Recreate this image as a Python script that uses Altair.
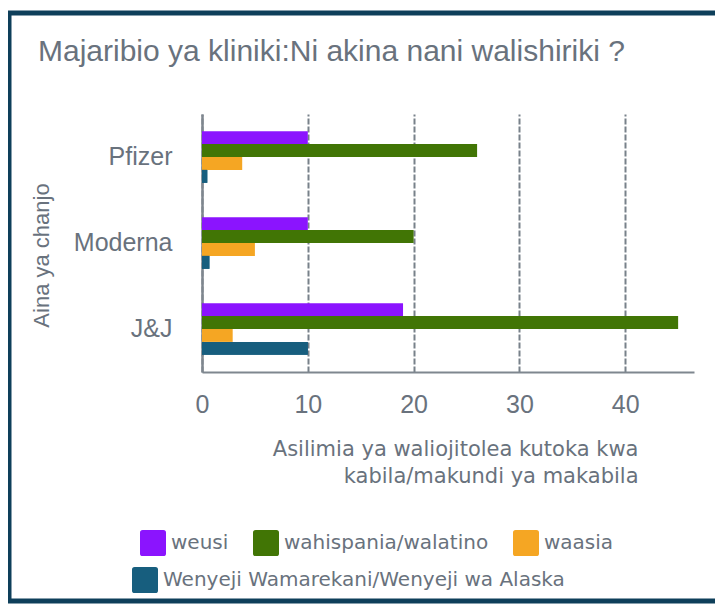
import altair as alt
import pandas as pd

# ---- data ----
vaccines = ["Pfizer", "Moderna", "J&J"]
groups = ["weusi", "wahispania/walatino", "waasia", "Wenyeji Wamarekani/Wenyeji wa Alaska"]
weusi = [10, 10, 19]
wahispania = [26, 20, 45]
waasia = [3.8, 5.0, 2.9]
wenyeji = [0.5, 0.7, 10]
colors = ["#8b14fe", "#417505", "#f5a623", "#175e7e"]
x_ticks = [0, 10, 20, 30, 40]

rows = []
for g, vals in zip(groups, [weusi, wahispania, waasia, wenyeji]):
    for v, val in zip(vaccines, vals):
        rows.append({"chanjo": v, "kundi": g, "asilimia": val})
df = pd.DataFrame(rows)
df_last = df[df["kundi"] == groups[3]]

TEXT = "#69727d"
AXIS = "#7f878f"
rounded = "M-0.8,-1H0.8Q1,-1,1,-0.8V0.8Q1,1,0.8,1H-0.8Q-1,1,-1,0.8V-0.8Q-1,-1,-0.8,-1Z"

x_scale = alt.Scale(domain=[0, 46.5], nice=False, zero=True)
y_scale = alt.Scale(domain=vaccines, paddingInner=0.4, paddingOuter=0.2)
off_scale = alt.Scale(domain=groups, paddingInner=0, paddingOuter=0)

x_axis = alt.Axis(
    values=x_ticks,
    title=["Asilimia ya waliojitolea kutoka kwa", "kabila/makundi ya makabila"],
    ticks=False,
    domainColor=AXIS,
    domainWidth=2,
    labelFont="Liberation Sans",
    labelFontSize=25,
    labelColor=TEXT,
    labelPadding=20,
    labelFlush=False,
    grid=True,
    gridColor="#78818a",
    gridDash=[6, 2],
    gridWidth=2,
    titleFont="DejaVu Sans",
    titleFontSize=21,
    titleFontWeight="normal",
    titleColor=TEXT,
    titleAlign="right",
    titleBaseline="alphabetic",
    titleX=436,
    titleY=83,
    titleLineHeight=27,
)
y_axis = alt.Axis(
    title="Aina ya chanjo",
    ticks=False,
    domainColor=AXIS,
    domainWidth=2.5,
    labelFont="Liberation Sans",
    labelFontSize=25,
    labelColor=TEXT,
    labelPadding=30,
    titleFont="Liberation Sans",
    titleFontSize=22,
    titleFontWeight="normal",
    titleColor=TEXT,
    titleAngle=270,
    titleAlign="center",
    titleBaseline="middle",
    titleX=-161,
    titleY=141,
)

legend_common = dict(
    title=None,
    orient="none",
    symbolType=rounded,
    symbolSize=676,
    symbolStrokeWidth=0,
    symbolOpacity=1,
    labelFont="DejaVu Sans",
    labelFontSize=20,
    labelColor=TEXT,
    labelOffset=5,
    labelLimit=600,
)

bars = alt.Chart(df).mark_bar().encode(
    x=alt.X("asilimia:Q", scale=x_scale, axis=x_axis),
    y=alt.Y("chanjo:N", scale=y_scale, axis=y_axis),
    yOffset=alt.YOffset("kundi:N", scale=off_scale),
    color=alt.Color(
        "kundi:N",
        scale=alt.Scale(domain=groups, range=colors),
        legend=alt.Legend(
            values=groups[:3],
            direction="horizontal",
            legendX=-62,
            legendY=416,
            columnPadding=24,
            **legend_common,
        ),
    ),
)

bars_last = alt.Chart(df_last).mark_bar().encode(
    x=alt.X("asilimia:Q", scale=x_scale, axis=x_axis),
    y=alt.Y("chanjo:N", scale=y_scale, axis=y_axis),
    yOffset=alt.YOffset("kundi:N", scale=off_scale),
    fill=alt.Fill(
        "kundi:N",
        scale=alt.Scale(domain=groups[3:], range=colors[3:]),
        legend=alt.Legend(
            direction="horizontal",
            legendX=-70,
            legendY=453,
            **legend_common,
        ),
    ),
)

border = alt.Chart(pd.DataFrame({"k": [0]})).mark_rect(
    fill="transparent", stroke="#0e3f5a", strokeWidth=5
).encode(
    x=alt.value(-193), x2=alt.value(700), y=alt.value(-101), y2=alt.value(487)
)

chart = alt.layer(bars, bars_last, border).properties(
    width=492,
    height=258,
    background="white",
    autosize=alt.AutoSizeParams(type="none"),
    padding={"left": 194, "top": 106, "right": 21, "bottom": 233},
    title=alt.TitleParams(
        "Majaribio ya kliniki:Ni akina nani walishiriki ?",
        anchor="start",
        frame="group",
        dx=-164,
        dy=80,
        font="Liberation Sans",
        fontSize=30,
        fontWeight="normal",
        color=TEXT,
        baseline="alphabetic",
        offset=0,
    ),
).configure_view(stroke="transparent", strokeWidth=0)

chart.save("out.html", embed_options={"renderer": "svg", "actions": False})
